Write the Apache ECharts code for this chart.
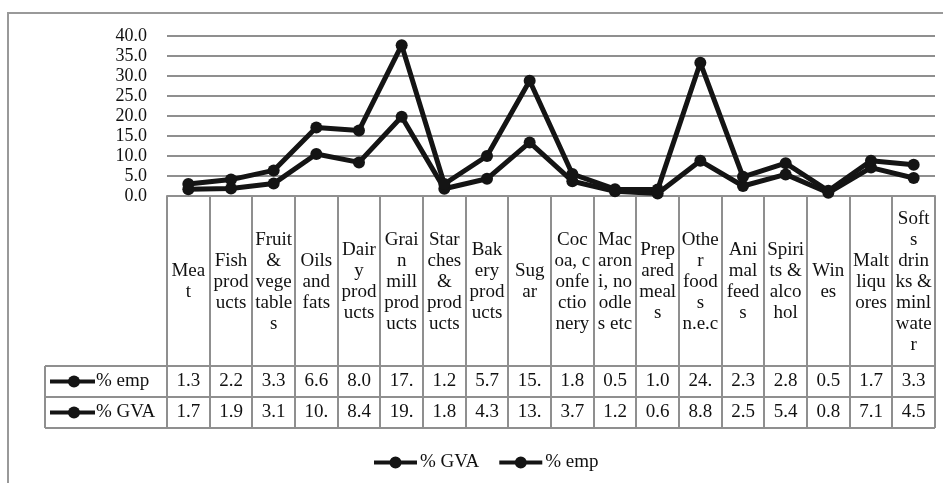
<!DOCTYPE html>
<html><head><meta charset="utf-8">
<script src="https://cdn.jsdelivr.net/npm/echarts@6/dist/echarts.min.js"></script>
<style>html,body{margin:0;padding:0;background:#fff}#c{width:943px;height:483px}</style>
</head><body><div id="c"></div>
<script>
const categories = ['Mea\nt','Fish\nprod\nucts','Fruit\n&\nvege\ntable\ns','Oils\nand\nfats','Dair\ny\nprod\nucts','Grai\nn\nmill\nprod\nucts','Star\nches\n&\nprod\nucts','Bak\nery\nprod\nucts','Sug\nar','Coc\noa, c\nonfe\nctio\nnery','Mac\naron\ni, no\nodle\ns etc','Prep\nared\nmeal\ns','Othe\nr\nfood\ns\nn.e.c','Ani\nmal\nfeed\ns','Spiri\nts &\nalco\nhol','Win\nes','Malt\nliqu\nores','Soft\ns\ndrin\nks &\nminl\nwate\nr'];
const empValues = [1.3,2.2,3.3,6.6,8.0,17.9,1.2,5.7,15.4,1.8,0.5,1.0,24.5,2.3,2.8,0.5,1.7,3.3];
const gvaValues = [1.7,1.9,3.1,10.5,8.4,19.8,1.8,4.3,13.4,3.7,1.2,0.6,8.8,2.5,5.4,0.8,7.1,4.5];
const yTicks = {min:0, max:40, interval:5};

const FONT = 'Liberation Serif';
const TXT = '#111';
const GRIDC = '#8f8f8f';
const LINEC = '#141414';
const TFS = 19;

const chart = echarts.init(document.getElementById('c'), null, {renderer:'canvas'});
const legendIcon = 'path://M0,4h43v4h-43z M15.5,6a6,6 0 1,1 12,0a6,6 0 1,1 -12,0z';
const baseOption = {
  animation:false,
  backgroundColor:'#fff',
  grid:{left:167,right:8,top:36,bottom:287},
  legend:{
    data:['% GVA','% emp'],
    top:448, left:369,
    icon:legendIcon,
    itemWidth:43, itemHeight:12, itemGap:20,
    textStyle:{fontFamily:FONT,fontSize:TFS,color:TXT,padding:[0,0,0,-2]}
  },
  xAxis:{
    type:'category', data:categories, boundaryGap:true,
    axisLine:{show:true,lineStyle:{color:GRIDC,width:2}},
    axisTick:{show:false},
    axisLabel:{interval:0,margin:86,verticalAlign:'middle',lineHeight:21,
      fontFamily:FONT,fontSize:TFS,color:TXT}
  },
  yAxis:{
    type:'value', min:yTicks.min, max:yTicks.max, interval:yTicks.interval,
    axisLine:{show:false}, axisTick:{show:false},
    axisLabel:{formatter:v=>v.toFixed(1),fontFamily:FONT,fontSize:18,color:TXT,margin:20},
    splitLine:{lineStyle:{color:GRIDC,width:2}}
  },
  series:[
    {name:'% GVA',type:'line',stack:'total',data:gvaValues,symbol:'circle',symbolSize:12,
     lineStyle:{width:5,color:LINEC},itemStyle:{color:LINEC}},
    {name:'% emp',type:'line',stack:'total',data:empValues,symbol:'circle',symbolSize:12,
     lineStyle:{width:5,color:LINEC},itemStyle:{color:LINEC}}
  ]
};
chart.setOption(baseOption);

// Build the data table from the arrays and axis scale
const x0c = chart.convertToPixel({xAxisIndex:0}, 0);
const x1c = chart.convertToPixel({xAxisIndex:0}, 1);
const bw = x1c - x0c;
const left = x0c - bw/2;
const right = left + bw*categories.length;
const yTop = chart.convertToPixel({yAxisIndex:0}, 0);
const headerH = 170, rowH = 31;
const yRow1 = yTop + headerH, yRow2 = yRow1 + rowH, yRow3 = yRow2 + rowH;
const legLeft = 45;
const g = [];
const lineStyle = {stroke:GRIDC, lineWidth:2};
g.push({type:'rect',shape:{x:8,y:13,width:1000,height:600},style:{fill:null,stroke:'#999',lineWidth:2},silent:true});
for (let i=0;i<=categories.length;i++){
  const x = Math.round(left + i*bw);
  g.push({type:'line',shape:{x1:x,y1:yTop,x2:x,y2:yRow3},style:lineStyle,silent:true});
}
[yRow1,yRow2,yRow3].forEach(y=>g.push({type:'line',shape:{x1:legLeft,y1:y,x2:right,y2:y},style:lineStyle,silent:true}));
g.push({type:'line',shape:{x1:legLeft,y1:yRow1,x2:legLeft,y2:yRow3},style:lineStyle,silent:true});
const fmt = v => v.toFixed(1).slice(0,3);
const rows = [['% emp',empValues,yRow1],['% GVA',gvaValues,yRow2]];
rows.forEach(([name,vals,y])=>{
  const cy = y + rowH/2;
  vals.forEach((v,i)=>{
    g.push({type:'text',x:chart.convertToPixel({xAxisIndex:0}, i),y:cy,
      style:{text:fmt(v),fontFamily:FONT,fontSize:TFS,fill:TXT,align:'center',verticalAlign:'middle'},silent:true});
  });
  g.push({type:'line',shape:{x1:legLeft+5,y1:cy,x2:legLeft+50,y2:cy},style:{stroke:LINEC,lineWidth:4},silent:true});
  g.push({type:'circle',shape:{cx:legLeft+29,cy:cy,r:6},style:{fill:LINEC},silent:true});
  g.push({type:'text',x:legLeft+51,y:cy,style:{text:name,fontFamily:FONT,fontSize:TFS,fill:TXT,align:'left',verticalAlign:'middle'},silent:true});
});
chart.setOption({graphic:{elements:g}});
</script></body></html>
